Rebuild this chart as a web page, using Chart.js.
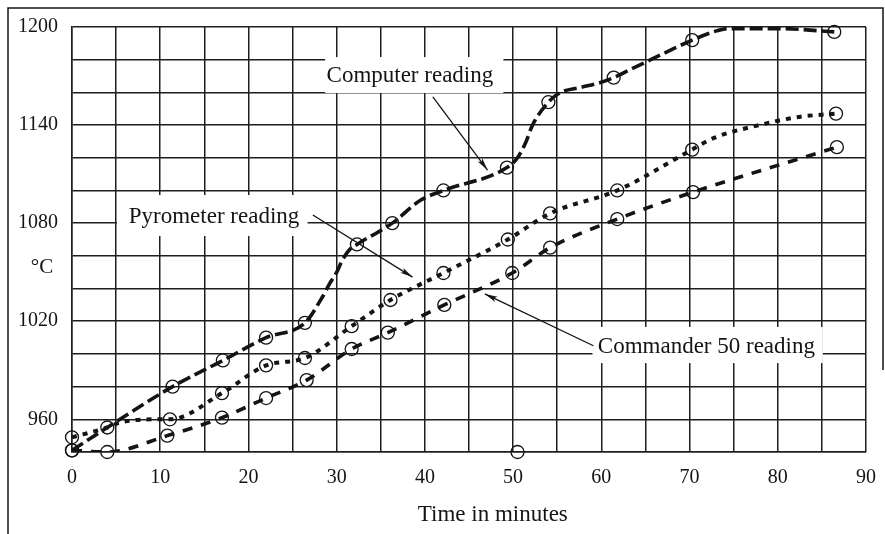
<!DOCTYPE html>
<html>
<head>
<meta charset="utf-8">
<script src="https://cdn.jsdelivr.net/npm/chart.js@4.4.1/dist/chart.umd.min.js"></script>
<style>
html,body{margin:0;padding:0;background:#fff;}
#wrap{width:885px;height:534px;position:relative;}
</style>
</head>
<body>
<div id="wrap"><canvas id="c" width="885" height="534"></canvas></div>
<script>
// ---------- data ----------
const xTickLabels = [0, 10, 20, 30, 40, 50, 60, 70, 80, 90];
const yTickLabels = [960, 1020, 1080, 1140, 1200];
const seriesNames = ['Computer reading', 'Pyrometer reading', 'Commander 50 reading'];

// Computer reading: measured points (circles) and traced curve
const computerTime = [0, 4, 11.4, 17.1, 22, 26.4, 32.3, 36.3, 42.1, 49.3, 54, 61.4, 70.3, 86.4];
const computerTemp = [941, 955, 980, 996, 1010, 1019, 1067, 1080, 1100, 1114, 1154, 1169, 1192, 1197];
const computerTraceTime = [0, 4, 11.4, 17.1, 22, 26.4, 28.4, 29.2, 30.1, 30.6, 31.5, 32.3, 36.3, 39.5, 42.1, 49.3, 50.5, 51.4, 52.2, 54, 55.4, 57.6, 59.9, 61.4, 63.3, 65.6, 67.9, 70.3, 72.7, 74.3, 80.3, 86.4];
const computerTraceTemp = [941, 955, 980, 996, 1010, 1019, 1035, 1043, 1051, 1057, 1064, 1067, 1080, 1094, 1100, 1114, 1120, 1129, 1140, 1154, 1160, 1163, 1166, 1169, 1174, 1180, 1186, 1192, 1197, 1199, 1199, 1197];

// Pyrometer reading
const pyrometerTime = [0, 11.1, 17, 22, 26.4, 31.7, 36.1, 42.1, 49.4, 54.2, 61.8, 70.3, 86.6];
const pyrometerTemp = [949, 960, 976, 993, 997.5, 1017, 1033, 1049.5, 1070, 1086, 1100, 1125, 1147];
const pyrometerTraceTime = [0, 4, 5.4, 9.6, 11.1, 17, 22, 26.4, 31.7, 36.1, 42.1, 49.4, 54.2, 61.8, 70.3, 72.7, 77.9, 82.4, 86.6];
const pyrometerTraceTemp = [949, 955, 958, 960, 960, 976, 993, 997.5, 1017, 1033, 1049.5, 1070, 1086, 1100, 1125, 1132, 1140, 1145, 1147];

// Commander 50 reading
const commanderTime = [0, 4, 10.8, 17, 22, 26.6, 31.7, 35.8, 42.2, 49.9, 54.2, 61.8, 70.4, 86.7];
const commanderTemp = [941, 940, 950, 961, 973, 984, 1003, 1013, 1030, 1049.5, 1065, 1082.5, 1099, 1126.5];
const commanderTraceTime = commanderTime;
const commanderTraceTemp = commanderTemp;

// lone plotted circle on the time axis
const strayTime = [50.5];
const strayTemp = [940];

// ---------- helpers ----------
const pts = (xs, ys) => xs.map((x, i) => ({x: x, y: ys[i]}));
const INK = '#141414';
const SERIF = '"Liberation Serif", "Times New Roman", serif';

function lineSet(label, xs, ys, dash, width) {
  return {
    label: label, data: pts(xs, ys), borderColor: INK, borderWidth: width,
    borderDash: dash, borderCapStyle: 'butt', pointRadius: 0, pointHoverRadius: 0,
    cubicInterpolationMode: 'monotone', fill: false, order: 2
  };
}
function markSet(label, xs, ys) {
  return {
    label: label, data: pts(xs, ys), showLine: false, pointRadius: 6.5,
    pointBorderWidth: 1.3, pointBorderColor: INK, pointBackgroundColor: 'rgba(255,255,255,0)',
    pointStyle: 'circle', clip: false, order: 1
  };
}

// annotation labels (data coordinates)
const notes = [
  {text: seriesNames[0], box: [28.7, 48.9, 1159.6, 1181.6], tx: 38.3, ty: 1170, align: 'center',
   arrow: [[40.9, 1157.2], [47.1, 1112.5]]},
  {text: seriesNames[1], box: [5.1, 26.7, 1072.1, 1097.2], tx: 16.1, ty: 1083.8, align: 'center',
   arrow: [[27.3, 1085], [38.6, 1047]]},
  {text: seriesNames[2], box: [59.0, 85.1, 994.4, 1016.5], tx: 59.6, ty: 1004.2, align: 'left',
   arrow: [[59.1, 1005], [46.8, 1036.7]]}
];

const overlay = {
  id: 'overlay',
  beforeDraw(chart) {
    const c = chart.ctx;
    c.save(); c.fillStyle = '#fff'; c.fillRect(0, 0, chart.width, chart.height); c.restore();
  },
  beforeDatasetsDraw(chart) {
    const c = chart.ctx, X = chart.scales.x, Y = chart.scales.y;
    c.save();
    notes.forEach(n => {
      const x0 = X.getPixelForValue(n.box[0]), x1 = X.getPixelForValue(n.box[1]);
      const y0 = Y.getPixelForValue(n.box[3]), y1 = Y.getPixelForValue(n.box[2]);
      c.fillStyle = '#fff';
      c.fillRect(x0, y0, x1 - x0, y1 - y0);
      c.fillStyle = INK;
      c.font = '23px ' + SERIF;
      c.textAlign = n.align; c.textBaseline = 'middle';
      c.fillText(n.text, X.getPixelForValue(n.tx), Y.getPixelForValue(n.ty));
      // arrow
      const ax = X.getPixelForValue(n.arrow[0][0]), ay = Y.getPixelForValue(n.arrow[0][1]);
      const bx = X.getPixelForValue(n.arrow[1][0]), by = Y.getPixelForValue(n.arrow[1][1]);
      c.strokeStyle = INK; c.lineWidth = 1.3;
      c.beginPath(); c.moveTo(ax, ay); c.lineTo(bx, by); c.stroke();
      const ang = Math.atan2(by - ay, bx - ax), L = 13, W = 0.22;
      c.beginPath();
      c.moveTo(bx, by);
      c.lineTo(bx - L * Math.cos(ang - W), by - L * Math.sin(ang - W));
      c.lineTo(bx - L * 0.75 * Math.cos(ang), by - L * 0.75 * Math.sin(ang));
      c.lineTo(bx - L * Math.cos(ang + W), by - L * Math.sin(ang + W));
      c.closePath(); c.fill();
    });
    c.restore();
  },
  afterDraw(chart) {
    const c = chart.ctx, Y = chart.scales.y, A = chart.chartArea;
    c.save();
    // outer frame of the figure
    c.strokeStyle = INK; c.lineWidth = 1.5;
    c.beginPath();
    c.moveTo(8, chart.height); c.lineTo(8, 8); c.lineTo(883, 8); c.lineTo(883, 370);
    c.stroke();
    // unit label on the value axis
    c.fillStyle = INK; c.font = '21px ' + SERIF;
    c.textAlign = 'center'; c.textBaseline = 'middle';
    c.fillText('\u00B0C', 42, Y.getPixelForValue(1052.6));
    // time axis title
    c.font = '23px ' + SERIF;
    c.fillText('Time in minutes', A.left + (A.right - A.left) * 0.53, 515);
    c.restore();
  }
};

new Chart(document.getElementById('c'), {
  type: 'line',
  data: {
    datasets: [
      lineSet(seriesNames[0], computerTraceTime, computerTraceTemp, [13, 5], 3.6),
      lineSet(seriesNames[1], pyrometerTraceTime, pyrometerTraceTemp, [5, 6], 4),
      lineSet(seriesNames[2], commanderTraceTime, commanderTraceTemp, [10, 9], 3.6),
      markSet(seriesNames[0] + ' points', computerTime, computerTemp),
      markSet(seriesNames[1] + ' points', pyrometerTime, pyrometerTemp),
      markSet(seriesNames[2] + ' points', commanderTime, commanderTemp),
      markSet('stray point', strayTime, strayTemp)
    ]
  },
  options: {
    responsive: false,
    animation: false,
    events: [],
    layout: {padding: {top: 27, right: 19, left: 0, bottom: 0}},
    plugins: {legend: {display: false}, tooltip: {enabled: false}, title: {display: false}},
    scales: {
      x: {
        type: 'linear', min: 0, max: 90,
        grid: {color: '#1e1e1e', lineWidth: 1.5, drawTicks: false},
        border: {display: true, color: '#1e1e1e', width: 1.5},
        ticks: {
          stepSize: 5, autoSkip: false, maxRotation: 0, padding: 14, color: INK,
          font: {family: SERIF, size: 20},
          callback: v => xTickLabels.includes(v) ? String(v) : ''
        },
        afterFit: s => { s.height = 82; s.paddingLeft = 0; s.paddingRight = 0; }
      },
      y: {
        type: 'linear', min: 940, max: 1200,
        grid: {color: '#1e1e1e', lineWidth: 1.5, drawTicks: false},
        border: {display: true, color: '#1e1e1e', width: 1.5},
        ticks: {
          stepSize: 20, autoSkip: false, padding: 14, color: INK,
          font: {family: SERIF, size: 20},
          callback: v => yTickLabels.includes(v) ? String(v) : ''
        },
        afterFit: s => { s.width = 72; s.paddingTop = 0; s.paddingBottom = 0; }
      }
    }
  },
  plugins: [overlay]
});
</script>
</body>
</html>
